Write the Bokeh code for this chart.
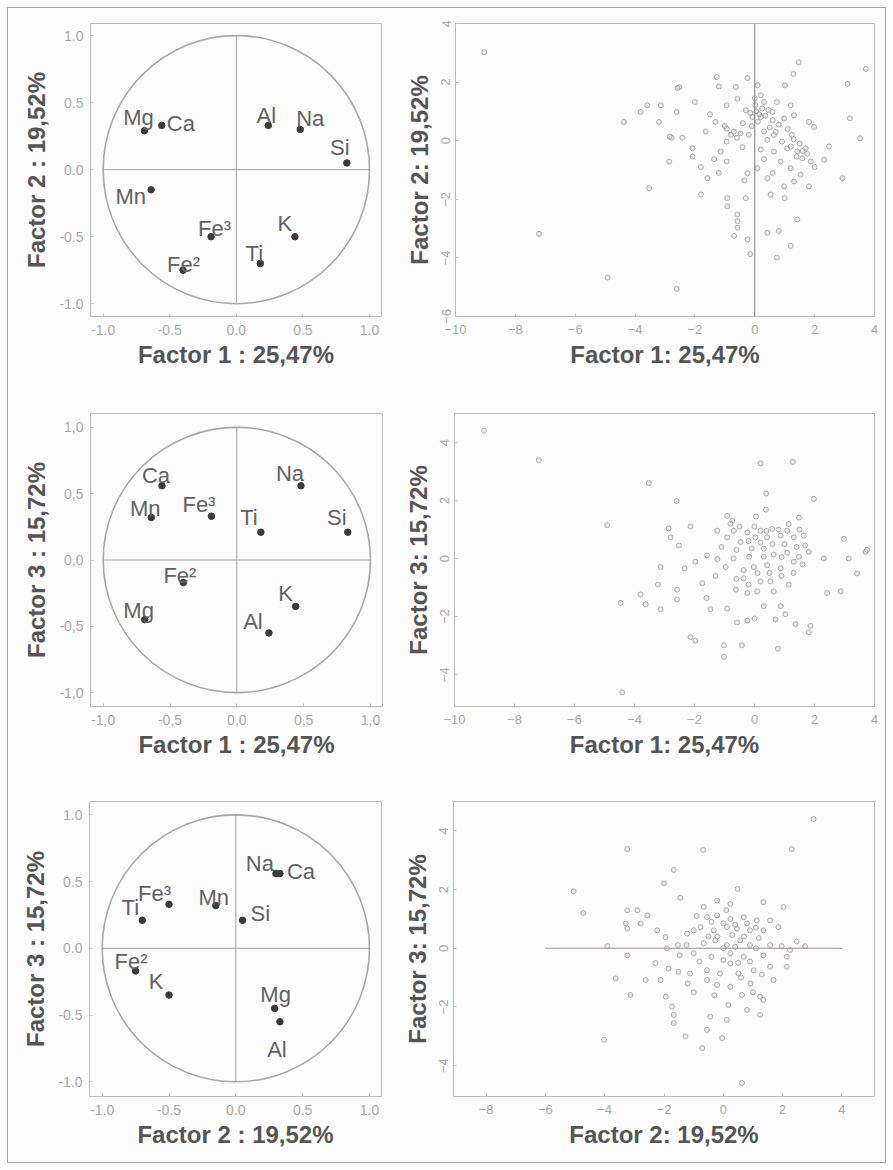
from bokeh.plotting import figure
from bokeh.layouts import column, row
from bokeh.models import Range1d, FixedTicker, ColumnDataSource, Span, CustomJSTickFormatter
from bokeh.core.properties import value
from bokeh.embed import file_html
from bokeh.resources import INLINE

# ---------------------------------------------------------------- loadings
elements = ["Mg", "Ca", "Al", "Na", "Si", "Mn", "Fe³", "Fe²", "Ti", "K"]
factor1 = [-0.69, -0.56, 0.24, 0.48, 0.83, -0.64, -0.19, -0.40, 0.18, 0.44]
factor2 = [0.29, 0.33, 0.33, 0.30, 0.05, -0.15, -0.50, -0.75, -0.70, -0.50]
factor3 = [-0.45, 0.56, -0.55, 0.56, 0.21, 0.32, 0.33, -0.17, 0.21, -0.35]

label_f1 = "Factor 1 : 25,47%"
label_f2 = "Factor 2 : 19,52%"
label_f3 = "Factor 3 : 15,72%"
score_f1 = "Factor 1: 25,47%"
score_f2 = "Factor 2: 19,52%"
score_f3 = "Factor 3: 15,72%"

loading_ticks = [-1.0, -0.5, 0.0, 0.5, 1.0]

# ---------------------------------------------------------------- scores
# Factor 1 vs Factor 2
s12_x = [1.47, 1.29, 3.71, 3.10, 3.18, 3.52, 2.93,
         -1.27, -0.24, -1.20, -0.63, 0.09, 1.01, -2.52,
         -2.0, -0.58, -0.94, -0.30, 0.02, 0.31, 0.59, 0.74, 1.20,
         -0.08, 0.20, 0.98, 1.31, 1.81, 1.98,
         -3.81, -3.59, -3.14, -4.37, -3.20, -2.61, -2.78, -2.42,
         -1.64, -1.31, -0.94, -0.70, -0.48, -0.94, -1.14,
         -2.08, -2.08, -2.86, -1.36, -0.94, -0.41,
         0.31, 0.42, 0.64, 0.91, 1.08, 1.24, 1.42, 1.59, 1.87, 1.70, 2.32, 2.48,
         0.31, 0.09, 0.64, 0.86, 1.20, 1.53, 1.31, 1.81, 0.98, 0.42, 0.53,
         -0.24, -0.35, -1.58, -3.53, -1.80, -0.92, -0.92, -0.30, 1.0,
         -0.58, -0.58, -0.58, -0.69, -0.24, 0.42, 0.80, 1.42, 1.20, -0.15, 0.74, -4.92,
         -9.04, -7.21, -2.61, -2.84, -2.58,
         0.05, 0.15, 0.25, 0.10, -0.15, 0.35, 0.45, 0.60, 0.80, 1.10, 1.30, 1.50,
         1.60, 1.40, 1.20, 0.70, -0.40, -0.60, -0.80, -1.00, 0.00, 0.20, -0.10,
         0.50, 1.75, 2.00, -1.50, -1.80, -1.20, 0.60, 0.20, -0.20]
s12_y = [2.68, 2.28, 2.45, 1.94, 0.76, 0.08, -1.28,
         2.17, 2.14, 1.85, 1.83, 1.89, 1.89, 1.83,
         1.32, 1.43, 1.21, 1.04, 1.21, 1.32, 0.98, 1.32, 1.21,
         0.81, 0.81, 0.76, 0.87, 0.64, 0.47,
         0.98, 1.21, 1.21, 0.64, 0.64, 0.98, 0.10, 0.10,
         0.31, 0.64, 0.41, 0.31, 0.25, -0.03, -0.37,
         -0.26, -0.54, -0.71, -0.63, -0.71, -0.22,
         0.31, 0.03, 0.20, -0.03, -0.26, 0.20, -0.37, -0.60, -0.71, -0.26, -0.65, -0.20,
         -0.63, -0.94, -0.37, -0.71, -0.94, -1.16, -1.39, -1.56, -1.56, -1.28, -1.84,
         -1.11, -1.35, -1.28, -1.62, -1.84, -1.96, -2.24, -1.96, -1.96,
         -2.52, -2.75, -2.97, -3.25, -3.37, -3.14, -3.08, -2.69, -3.59, -3.87, -3.99, -4.67,
         3.02, -3.18, -5.06, 0.14, 1.80,
         1.00, 0.90, 1.10, 0.65, 0.95, 0.85, 1.05, 0.70, 0.55, 0.40, 0.05, -0.10,
         -0.35, -0.55, -0.20, 0.30, 0.60, 0.10, 0.20, 0.50, 1.45, 1.55, 0.50,
         0.45, -0.45, -0.90, 0.90, -0.90, -1.10, -1.10, -0.30, 0.20]

# Factor 1 vs Factor 3
s13_x = [0.20, 1.28, -3.52, 0.39, 1.98, 0.38, -2.60, -4.91,
         -0.91, -0.74, 1.48, -2.86, -2.13, -2.80, -2.52,
         -1.24, -0.69, -0.24, 0.20, 0.59, 1.09, 1.14, 1.64,
         -0.91, -0.47, 0.03, 0.42, 0.87, 1.31, 1.69, 1.81,
         0.31, -0.18, 0.31, 0.64, 1.09, 1.48, 1.31, 0.87, 0.42, -0.02, -0.36, -0.36,
         0.20, 0.53, 1.14, 0.64, 0.09, -0.24, -0.62, -0.96,
         -1.58, -1.24, -1.97, -3.13, -2.33, -3.22, -1.74, -2.58, -3.80, -3.63, -3.13,
         -2.58, -1.60, -1.47, -0.91,
         0.31, 0.87, 1.03, 0.70, 1.37, 1.81, 1.87, 2.42, 2.87, 2.31, 3.14, 2.98, 3.42, 3.70,
         -0.58, -0.24, 0.00, -2.13, -1.97, -1.02, -0.42, -1.02, 0.78, -4.41, -4.47,
         -9.02, -7.19, 3.75,
         -0.80, -0.50, 0.00, 0.40, 0.80, -0.20, 0.20, 0.60, 1.00, 1.40, -0.60, -0.10,
         0.90, 0.10, 0.50, 0.90, -0.60, -0.20, 1.30, 1.60, -1.10, -0.70, 1.50, 0.05, -1.30]
s13_y = [3.28, 3.33, 2.60, 2.24, 2.06, 1.69, 1.98, 1.15,
         1.47, 1.30, 1.41, 1.04, 1.10, 0.73, 0.45,
         0.96, 0.96, 0.90, 0.96, 1.02, 0.96, 1.19, 0.79,
         0.73, 0.57, 0.73, 0.73, 0.79, 0.73, 0.45, 0.23,
         0.34, 0.06, 0.06, 0.14, 0.20, 0.06, -0.11, -0.34, -0.23, -0.29, -0.40, -0.68,
         -0.79, -0.79, -0.90, -1.13, -1.13, -1.19, -1.07, -0.29,
         0.11, -0.02, -0.11, -0.29, -0.34, -0.90, -0.85, -1.07, -1.24, -1.58, -1.75,
         -1.41, -1.36, -1.75, -1.72,
         -1.64, -1.64, -1.92, -2.10, -2.26, -2.54, -2.32, -1.19, -1.13, 0.00, 0.00, 0.68, -0.51, 0.23,
         -2.20, -2.14, -2.07, -2.71, -2.83, -2.99, -2.99, -3.39, -3.11, -4.61, -1.53,
         4.41, 3.39, 0.30,
         1.20, 1.10, 1.10, 0.95, 1.00, 0.60, 0.55, 0.50, 0.50, 0.40, 0.30, 0.35,
         0.05, -0.50, -0.50, -0.60, -0.70, -0.90, -0.50, -0.20, 0.40, 0.00, 1.00, 1.45, -0.60]

# Factor 2 vs Factor 3
s23_x = [-3.24, -0.68, 2.31, -1.67, -2.00, -5.05, 0.48, -4.72,
         -1.45, -0.21, 0.24, 1.35, 2.03, -0.66, -0.55, -0.21, 0.24, 0.69, 1.13, 1.58, 1.86,
         -0.77, -0.32, 0.12, 0.46, 0.90, 1.35, -1.22, -1.00,
         -3.24, -2.90, -2.56, -3.29, -3.24, -2.79, -2.23, -1.95,
         -3.91, -1.53, -1.24, -0.66, -0.27, 0.12, 0.57, 0.90, 1.58, 1.97, 2.48, 2.76, 2.25, -1.90,
         -3.24, -1.47, -1.00, 0.24, 0.69, 1.35, 2.14,
         -2.29, -1.85, -1.51, -1.12, -0.55, -0.11, 0.24, 0.51, 1.02, 1.58, 2.14,
         -3.63, -2.62, -2.12, -1.20, -0.55, -0.21, 0.24, 0.92, 1.69,
         -3.13, -1.94, 0.63, 1.24, 1.35, -1.73, 0.17, 0.80, 1.24, -1.67, -0.44, 0.12,
         -1.67, -0.55, -1.28, -0.04, -0.71, -4.02, 0.63, 3.04,
         -0.40, 0.00, 0.40, 0.80, 1.10, -0.20, 0.30, 0.70, 1.20, -0.50, 0.00, 0.40,
         1.10, -0.40, 0.00, 0.50, 0.90, 1.30, -0.80, 0.10, -0.90, 0.60, 1.00, -0.30, -1.00]
s23_y = [3.38, 3.35, 3.38, 2.67, 2.21, 1.94, 2.02, 1.20,
         1.72, 1.63, 1.51, 1.57, 1.41, 1.41, 1.06, 1.12, 1.00, 1.06, 0.95, 0.95, 0.72,
         0.72, 0.61, 0.72, 0.67, 0.61, 0.61, 0.50, 0.61,
         1.29, 1.29, 1.12, 0.84, 0.67, 0.84, 0.61, 0.38,
         0.07, 0.11, 0.11, 0.17, 0.27, 0.11, 0.27, 0.11, 0.11, 0.07, 0.23, 0.07, -0.06, 0.00,
         -0.24, -0.24, -0.17, -0.17, -0.29, -0.24, -0.29,
         -0.50, -0.69, -0.80, -0.86, -0.75, -0.86, -0.52, -0.86, -0.75, -0.63, -0.63,
         -1.03, -1.08, -1.08, -1.20, -1.08, -1.25, -1.31, -1.20, -1.08,
         -1.59, -1.65, -1.59, -1.65, -1.76, -1.99, -1.93, -2.10, -2.27, -2.27, -2.33, -2.44,
         -2.55, -2.78, -3.00, -3.06, -3.40, -3.12, -4.59, 4.40,
         0.90, 0.85, 0.80, 0.85, 0.70, 0.40, 0.45, 0.40, 0.35, 0.40, 0.00, 0.05,
         0.00, -0.30, -0.40, -0.50, -0.45, -0.90, -0.45, 1.30, 1.10, -1.00, -1.50, -1.60, -1.50]

zero_line_f2 = (-6, 4)

# ---------------------------------------------------------------- styling
FONT = "Liberation Sans"
BG = "#fcfcfc"
FRAME = "#bcbcbc"
TICK_TXT = "#a9a9a9"
AXIS_TXT = "#555555"

# label placement around each loading point: (dx px, dy px, align)
offsets_12 = {"Mg": (-6, -13, "center"), "Ca": (5, -2, "left"), "Al": (-2, -10, "center"),
              "Na": (10, -11, "center"), "Si": (-7, -15, "center"), "Mn": (-5, 7, "right"),
              "Fe³": (-13, -8, "left"), "Fe²": (-16, -6, "left"), "Ti": (-6, -10, "center"),
              "K": (-10, -13, "center")}
offsets_13 = {"Ca": (-6, -10, "center"), "Mn": (-6, -9, "center"), "Fe³": (-29, -12, "left"),
              "Ti": (-12, -15, "center"), "Na": (-11, -12, "center"), "Si": (-11, -15, "center"),
              "Fe²": (-20, -7, "left"), "Mg": (-6, -9, "center"), "K": (-10, -13, "center"),
              "Al": (-16, -11, "center")}
offsets_23 = {"Na": (-16, -10, "center"), "Ca": (7, -2, "left"), "Fe³": (-31, -11, "left"),
              "Mn": (-2, -8, "center"), "Ti": (-12, -13, "center"), "Si": (8, -7, "left"),
              "Fe²": (-21, -10, "left"), "K": (-13, -14, "center"), "Mg": (1, -14, "center"),
              "Al": (-3, 28, "center")}


def base_figure(w, h, borders, xr, yr):
    l, r, t, b = borders
    p = figure(width=w, height=h, x_range=Range1d(*xr), y_range=Range1d(*yr),
               min_border_left=l, min_border_right=r, min_border_top=t, min_border_bottom=b,
               toolbar_location=None, output_backend="svg",
               background_fill_color=BG, border_fill_color=None)
    p.grid.visible = False
    p.outline_line_color = FRAME
    p.outline_line_width = 1
    for ax in (p.xaxis[0], p.yaxis[0]):
        ax.axis_line_color = FRAME
        ax.major_tick_line_color = "#c4c4c4"
        ax.major_tick_in = 3
        ax.major_tick_out = 0
        ax.minor_tick_line_color = None
        ax.major_label_text_font = FONT
        ax.major_label_text_color = TICK_TXT
        ax.axis_label_text_font = FONT
        ax.axis_label_text_font_style = "bold"
        ax.axis_label_text_font_size = "24px"
        ax.axis_label_text_color = AXIS_TXT
    return p


def loading_panel(xv, yv, offsets, xlabel, ylabel, w, h, borders, xr, yr, sep):
    p = base_figure(w, h, borders, xr, yr)
    fmt = CustomJSTickFormatter(args=dict(sep=sep),
                                code="return tick.toFixed(1).replace('.', sep);")
    for ax in (p.xaxis[0], p.yaxis[0]):
        ax.ticker = FixedTicker(ticks=loading_ticks)
        ax.formatter = fmt
        ax.major_label_text_font_size = "14px"
    p.xaxis.major_label_standoff = 8
    p.yaxis.major_label_standoff = 7
    p.xaxis.axis_label_standoff = 3
    p.yaxis.axis_label_standoff = 6
    p.xaxis.axis_label = xlabel
    p.yaxis.axis_label = ylabel

    # correlation circle and its axes
    p.ellipse(x=[0], y=[0], width=[2], height=[2], fill_color=None,
              line_color="#a9a9a9", line_width=1.6)
    p.segment(x0=[-1, 0], y0=[0, -1], x1=[1, 0], y1=[0, 1],
              line_color="#a0a0a0", line_width=1)
    p.scatter(xv, yv, size=6.5, color="#3b3b3b")

    for align in ("left", "center", "right"):
        idx = [i for i, n in enumerate(elements) if offsets[n][2] == align]
        if not idx:
            continue
        src = ColumnDataSource(dict(
            x=[xv[i] for i in idx], y=[yv[i] for i in idx],
            t=[elements[i] for i in idx],
            dx=[offsets[elements[i]][0] for i in idx],
            dy=[offsets[elements[i]][1] for i in idx]))
        p.text(x="x", y="y", text="t", x_offset="dx", y_offset="dy", source=src,
               text_align=align, text_baseline="alphabetic",
               text_font=value(FONT), text_font_size="22px", text_color="#626262")
    return p


def score_panel(xv, yv, xlabel, ylabel, w, h, borders, xr, yr, xticks, yticks):
    p = base_figure(w, h, borders, xr, yr)
    p.xaxis.ticker = FixedTicker(ticks=xticks)
    p.yaxis.ticker = FixedTicker(ticks=yticks)
    for ax in (p.xaxis[0], p.yaxis[0]):
        ax.major_label_text_font_size = "13px"
    p.yaxis.major_label_orientation = "vertical"
    p.xaxis.major_label_standoff = 8
    p.yaxis.major_label_standoff = 5
    p.xaxis.axis_label_standoff = 4
    p.yaxis.axis_label_standoff = 6
    p.xaxis.axis_label = xlabel
    p.yaxis.axis_label = ylabel
    p.scatter(xv, yv, size=5, marker="circle", line_color="#8e8e8e", line_alpha=0.75,
              line_width=0.9, fill_color="#cfcfcf", fill_alpha=0.35)
    return p


# ---------------------------------------------------------------- panels
p1 = loading_panel(factor1, factor2, offsets_12, label_f1, label_f2,
                   400, 370, (90, 19, 23, 54), (-1.095, 1.09), (-1.095, 1.09), ".")
p2 = score_panel(s12_x, s12_y, score_f1, score_f2,
                 493, 370, (55, 19, 22, 53), (-10, 4), (-6, 4),
                 [-10, -8, -6, -4, -2, 0, 2, 4], [-6, -4, -2, 0, 2, 4])
p2.add_layout(Span(location=0, dimension="height", line_color="#7a7a7a", line_width=1))

p3 = loading_panel(factor1, factor3, offsets_13, label_f1, label_f3,
                   400, 390, (90, 18, 43, 50), (-1.095, 1.09), (-1.105, 1.105), ",")
p4 = score_panel(s13_x, s13_y, score_f1, score_f3,
                 493, 390, (54, 19, 43, 50), (-10, 4), (-5.1, 5.0),
                 [-10, -8, -6, -4, -2, 0, 2, 4], [-4, -2, 0, 2, 4])

p5 = loading_panel(factor2, factor3, offsets_23, label_f2, label_f3,
                   400, 410, (89, 19, 39, 74), (-1.095, 1.09), (-1.11, 1.10), ".")
p6 = score_panel(s23_x, s23_y, score_f2, score_f3,
                 493, 410, (52, 19, 41, 73), (-9.1, 5.1), (-5.05, 5.0),
                 [-8, -6, -4, -2, 0, 2, 4], [-4, -2, 0, 2, 4])
p6.segment(x0=[zero_line_f2[0]], y0=[0], x1=[zero_line_f2[1]], y1=[0],
           line_color="#9c9292", line_width=1.2)

page = column(row(p1, p2), row(p3, p4), row(p5, p6),
              styles={"outline": "1px solid #a6a6a6", "outline-offset": "-8px",
                      "background-color": BG})

open("out.html", "w").write(file_html(page, INLINE))
